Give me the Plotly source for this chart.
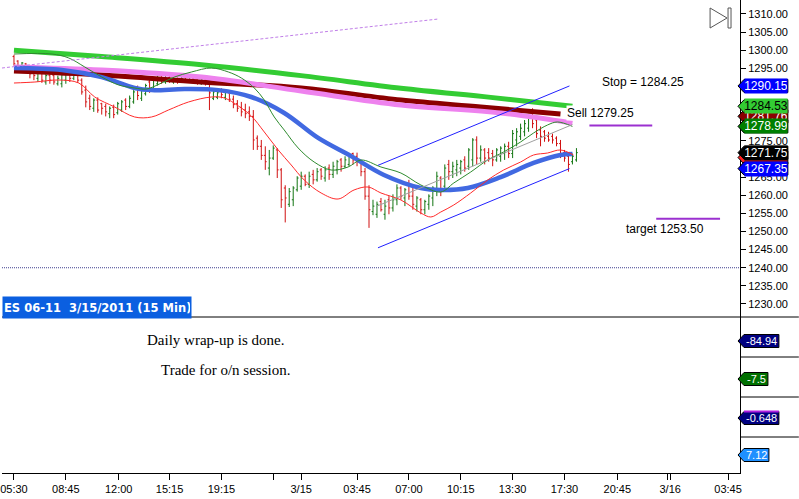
import plotly.graph_objects as go

# ES 06-11 15 min bars (price values)
bar_open = [
    1298.25, 1297.00, 1295.00, 1296.25, 1294.50, 1294.00, 1292.25, 1293.75, 1291.25, 1293.00,
    1293.00, 1290.75, 1290.75, 1291.75, 1294.00, 1292.25, 1294.50, 1291.75, 1289.00, 1286.75,
    1284.00, 1286.25, 1285.25, 1284.50, 1282.50, 1284.25, 1282.75, 1283.50, 1286.25, 1284.50,
    1285.75, 1289.50, 1286.75, 1288.00, 1291.25, 1289.50, 1290.75, 1293.00, 1291.25, 1292.50,
    1291.25, 1292.25, 1291.25, 1292.50, 1291.25, 1292.25, 1292.00, 1290.75, 1291.75, 1290.75,
    1286.75, 1287.00, 1289.00, 1287.00, 1288.25, 1286.50, 1285.25, 1284.25, 1283.50, 1283.00,
    1281.75, 1275.75, 1273.50, 1271.00, 1267.50, 1270.25, 1272.50, 1267.00, 1262.00, 1257.50,
    1258.75, 1261.50, 1262.50, 1265.25, 1263.00, 1265.75, 1264.25, 1267.00, 1264.75, 1267.50,
    1265.75, 1267.00, 1269.75, 1268.00, 1268.50, 1271.50, 1270.75, 1269.25, 1266.50, 1259.75,
    1255.50, 1254.75, 1258.25, 1254.75, 1258.75, 1256.50, 1258.75, 1262.00, 1259.25, 1263.00,
    1259.75, 1257.00, 1258.75, 1256.00, 1257.50, 1259.25, 1261.50, 1264.75, 1262.50, 1268.50,
    1266.50, 1267.00, 1267.50, 1269.75, 1268.00, 1269.75, 1275.25, 1270.25, 1272.50, 1271.75,
    1271.50, 1269.75, 1270.75, 1271.50, 1273.50, 1271.50, 1275.25, 1276.25, 1277.50, 1278.50,
    1282.50, 1280.75, 1278.00, 1277.50, 1276.25, 1276.25, 1275.75, 1274.25, 1271.75, 1270.75,
    1269.25, 1269.75]
bar_high = [
    1298.75, 1297.25, 1296.75, 1296.50, 1295.75, 1295.00, 1294.50, 1294.00, 1293.50, 1294.00,
    1293.50, 1293.00, 1293.75, 1294.00, 1294.50, 1295.25, 1295.00, 1292.25, 1290.25, 1287.75,
    1286.75, 1287.00, 1285.50, 1285.25, 1284.50, 1285.00, 1285.75, 1286.25, 1286.75, 1287.50,
    1289.00, 1290.25, 1289.50, 1290.75, 1291.75, 1292.25, 1293.00, 1293.50, 1293.00, 1293.25,
    1293.00, 1292.50, 1293.00, 1293.25, 1293.00, 1293.00, 1292.50, 1292.50, 1292.25, 1291.75,
    1289.50, 1289.00, 1289.50, 1289.00, 1288.75, 1287.50, 1286.25, 1285.75, 1285.25, 1284.50,
    1283.50, 1276.50, 1275.25, 1273.50, 1272.50, 1273.75, 1273.00, 1267.50, 1262.75, 1262.00,
    1262.50, 1265.25, 1266.50, 1265.75, 1266.50, 1267.00, 1267.50, 1267.50, 1268.00, 1268.50,
    1269.25, 1269.75, 1270.25, 1270.75, 1271.50, 1271.75, 1271.75, 1269.75, 1267.50, 1262.75,
    1258.75, 1258.25, 1259.25, 1258.75, 1259.75, 1260.25, 1263.00, 1262.50, 1262.00, 1264.25,
    1262.00, 1259.75, 1259.25, 1258.75, 1260.25, 1262.50, 1266.50, 1265.25, 1268.50, 1269.75,
    1269.25, 1269.75, 1269.75, 1270.75, 1273.00, 1275.75, 1276.25, 1273.75, 1273.00, 1273.00,
    1272.50, 1273.00, 1273.50, 1274.25, 1274.75, 1278.00, 1278.50, 1279.75, 1280.75, 1281.75,
    1284.00, 1281.75, 1279.00, 1278.00, 1277.50, 1277.00, 1276.25, 1275.25, 1272.50, 1271.75,
    1271.50, 1273.00]
bar_low = [
    1295.75, 1295.00, 1294.50, 1294.00, 1292.25, 1291.75, 1291.25, 1291.00, 1290.50, 1290.75,
    1290.50, 1290.25, 1289.75, 1290.75, 1291.25, 1291.75, 1291.00, 1287.75, 1284.25, 1283.50,
    1283.00, 1282.75, 1282.25, 1281.75, 1281.25, 1281.25, 1282.25, 1283.00, 1283.50, 1284.00,
    1285.25, 1286.25, 1286.00, 1287.50, 1288.25, 1289.00, 1290.25, 1290.75, 1290.75, 1291.00,
    1290.75, 1290.75, 1291.00, 1291.25, 1291.00, 1290.75, 1290.50, 1290.50, 1290.25, 1283.50,
    1286.25, 1286.50, 1286.75, 1286.25, 1285.75, 1284.00, 1283.00, 1281.75, 1281.25, 1280.50,
    1272.50, 1272.50, 1269.75, 1267.00, 1265.50, 1269.75, 1264.75, 1256.50, 1252.50, 1256.75,
    1257.00, 1261.00, 1261.50, 1262.50, 1262.00, 1263.00, 1263.75, 1264.25, 1263.75, 1264.25,
    1264.75, 1265.75, 1266.50, 1267.50, 1268.00, 1268.50, 1268.00, 1265.25, 1258.75, 1251.00,
    1254.50, 1253.75, 1255.50, 1253.25, 1254.75, 1255.50, 1257.25, 1258.75, 1257.00, 1258.75,
    1256.00, 1255.50, 1254.75, 1254.75, 1256.00, 1257.00, 1259.75, 1259.75, 1262.00, 1264.25,
    1264.75, 1265.25, 1265.75, 1266.50, 1267.00, 1268.00, 1268.50, 1269.25, 1268.50, 1269.25,
    1268.00, 1269.25, 1269.25, 1269.75, 1270.25, 1270.25, 1273.50, 1275.25, 1276.25, 1277.50,
    1278.50, 1275.75, 1273.50, 1274.75, 1274.75, 1274.25, 1273.50, 1270.25, 1269.25, 1266.50,
    1268.50, 1269.25]
bar_close = [
    1296.25, 1295.75, 1296.50, 1294.50, 1293.50, 1293.00, 1294.00, 1291.75, 1293.00, 1291.75,
    1291.25, 1292.25, 1293.25, 1293.50, 1292.25, 1294.50, 1291.75, 1288.50, 1285.75, 1284.50,
    1286.25, 1283.50, 1284.00, 1283.00, 1284.00, 1282.25, 1285.25, 1285.75, 1284.50, 1286.75,
    1288.50, 1287.50, 1289.00, 1290.25, 1289.50, 1291.75, 1292.25, 1291.75, 1292.25, 1291.75,
    1292.25, 1291.50, 1292.25, 1291.75, 1292.00, 1291.50, 1291.25, 1292.00, 1290.75, 1288.25,
    1288.50, 1288.25, 1287.75, 1288.50, 1286.50, 1285.00, 1284.00, 1283.00, 1282.50, 1281.75,
    1275.25, 1273.50, 1271.00, 1269.25, 1270.25, 1273.00, 1267.00, 1258.75, 1259.25, 1261.00,
    1262.00, 1264.75, 1265.25, 1263.00, 1265.25, 1264.25, 1266.50, 1265.25, 1267.00, 1265.75,
    1268.00, 1269.25, 1268.00, 1269.75, 1270.75, 1269.75, 1269.25, 1266.50, 1259.75, 1256.00,
    1257.00, 1257.50, 1256.00, 1257.00, 1256.50, 1258.75, 1262.00, 1259.75, 1261.50, 1259.75,
    1257.50, 1259.25, 1256.00, 1258.25, 1259.75, 1262.00, 1265.25, 1261.50, 1267.50, 1266.50,
    1268.00, 1268.50, 1269.25, 1267.50, 1272.50, 1275.25, 1270.25, 1272.50, 1270.25, 1270.25,
    1269.75, 1272.50, 1273.00, 1273.50, 1271.50, 1277.00, 1277.50, 1278.50, 1279.75, 1281.25,
    1279.75, 1277.00, 1276.25, 1275.75, 1275.25, 1275.25, 1274.25, 1270.75, 1270.25, 1268.50,
    1270.75, 1271.75]
bar_x = list(range(len(bar_close)))

# moving averages, read at bar positions
ma_slow_x = [0, 22, 47, 72, 97, 119.5, 140]
ma_slow_y = [1300.0, 1298.25, 1296.0, 1293.0, 1289.5, 1287.0, 1284.53]

ma_red_x = [0, 22, 47, 72, 97, 117, 137]
ma_red_y = [1294.25, 1293.15, 1291.25, 1289.6, 1286.25, 1284.35, 1282.4]

ma_pink_x = [0, 22, 47, 72, 97, 122, 140]
ma_pink_y = [1295.4, 1294.55, 1292.6, 1288.75, 1284.9, 1282.7, 1279.9]

ma_blue_x = [0, 12, 22, 30.25, 34.5, 42.75, 51.25, 59.5, 67.75, 76.25, 84.5, 92.75,
             102, 107, 113.75, 122, 130.25, 137, 140]
ma_blue_y = [1295.1, 1294.55, 1292.6, 1289.6, 1289.0, 1289.3, 1289.0, 1287.1, 1282.7,
             1275.8, 1270.8, 1265.6, 1262.0, 1261.45, 1262.0, 1265.0, 1268.9, 1271.1, 1271.4]

ma_fast_x = [0, 9.5, 13.75, 17.75, 22, 26.25, 30.25, 33.25, 37, 40.25, 44.5, 49.5, 53.75,
             57, 60.25, 62.75, 65.25, 67.75, 71.25, 75.25, 79.5, 83.75, 87, 92, 97, 102,
             107, 110.25, 114.5, 118.75, 122.75, 127, 130.25, 133.75, 136.25, 140]
ma_fast_y = [1298.96, 1298.96, 1297.86, 1295.38, 1292.62, 1290.41, 1289.58, 1289.31,
             1290.96, 1292.62, 1294.0, 1295.1, 1294.0, 1292.34, 1289.58, 1286.27, 1281.59,
             1278.0, 1273.03, 1269.17, 1266.96, 1267.79, 1269.72, 1267.79, 1266.13, 1262.83,
             1260.9, 1263.38, 1266.41, 1269.72, 1271.93, 1274.69, 1277.17, 1279.38, 1280.21,
             1278.99]

band_low_x = [0, 5.25, 11.25, 16.25, 20.25, 25.25, 30.25, 34.5, 38.75, 43.75, 49.5, 52.75,
              56.25, 59.5, 62.75, 66.25, 69.5, 72.75, 77, 81.25, 85.25, 88.75, 92, 97, 102,
              104.5, 107, 110.25, 114.5, 118.75, 122.75, 127, 130.25, 133.75, 137, 140.25]
band_low_y = [1290.96, 1291.24, 1291.79, 1290.96, 1287.1, 1284.34, 1281.59, 1281.59,
              1283.52, 1285.72, 1287.1, 1286.83, 1284.62, 1281.86, 1277.45, 1272.48, 1268.34,
              1264.21, 1260.62, 1258.96, 1261.45, 1262.27, 1260.62, 1258.69, 1255.1, 1254.0,
              1255.38, 1257.31, 1260.62, 1264.21, 1266.96, 1269.17, 1271.1, 1271.65, 1272.48,
              1271.1]

# drawn lines
channel_x = [91.25, 139.25]
channel_top = [1268.25, 1290.15]
channel_bot = [1245.5, 1267.35]
regress_x = [91, 140]
regress_y = [1257.0, 1279.5]
trend_x = [-3, 106.25]
trend_y = [1295.1, 1308.6]
support_level = 1240.0
sell_price = 1279.25
target_price = 1253.50
stop_price = 1284.25

# price tags on the right axis (drawn in this order)
tag_values = [1290.15, 1281.76, 1284.53, 1278.99, 1270.40, 1271.75, 1267.35]
tag_colors = ['#0000ff', '#8b0000', '#33cc33', '#008000', '#ff2020', '#000000', '#0000ff']
tag_text_colors = ['white', 'white', 'black', 'white', 'white', 'white', 'white']
tag_show_text = [True, True, True, True, False, True, True]

sub_values = ['-84.94', '-7.5', '-0.648', '7.12']
sub_colors = ['#000080', '#007000', '#000080', '#1e90ff']

tick_pos = [0, 13, 26.25, 39, 52, 65, 72, 86, 99, 112, 125, 138, 151.25, 163.75, 164.5, 179]
tick_text = ['05:30', '08:45', '12:00', '15:15', '19:15', '', '3/15', '03:45', '07:00',
             '10:15', '13:30', '17:30', '20:45', '', '3/16', '03:45']

price_ticks = list(range(1230, 1311, 5))

PLOT_W = 740.0   # plot area width in px
PLOT_H = 473.0   # plot area height in px
MAIN_LO, MAIN_HI = 1226.41, 1313.86
split = 1 - 317 / PLOT_H


def px(x):
    return x / PLOT_W


def py(y):
    return 1 - y / PLOT_H


fig = go.Figure()

fig.add_trace(go.Ohlc(x=bar_x, open=bar_open, high=bar_high, low=bar_low, close=bar_close,
                      increasing_line_color='#117511', decreasing_line_color='#d01010',
                      line_width=1, tickwidth=0.35, hoverinfo='skip'))

fig.add_trace(go.Scatter(x=ma_slow_x, y=ma_slow_y, mode='lines', line_shape='spline',
                         line=dict(color='#33cc33', width=5)))
fig.add_trace(go.Scatter(x=ma_red_x, y=ma_red_y, mode='lines', line_shape='spline',
                         line=dict(color='#8b0000', width=5)))
fig.add_trace(go.Scatter(x=ma_pink_x, y=ma_pink_y, mode='lines', line_shape='spline',
                         line=dict(color='#ee82ee', width=5)))
fig.add_trace(go.Scatter(x=ma_blue_x, y=ma_blue_y, mode='lines', line_shape='spline',
                         line=dict(color='#4169e1', width=4.5)))
fig.add_trace(go.Scatter(x=ma_fast_x, y=ma_fast_y, mode='lines', line_shape='spline',
                         line=dict(color='#2e8b2e', width=1)))
fig.add_trace(go.Scatter(x=band_low_x, y=band_low_y, mode='lines', line_shape='spline',
                         line=dict(color='#ff2a2a', width=1)))

# channel + regression + trendlines
fig.add_trace(go.Scatter(x=channel_x, y=channel_top, mode='lines', line=dict(color='#2020ff', width=1)))
fig.add_trace(go.Scatter(x=channel_x, y=channel_bot, mode='lines', line=dict(color='#2020ff', width=1)))
fig.add_trace(go.Scatter(x=regress_x, y=regress_y, mode='lines', line=dict(color='#a0a0a0', width=1)))
fig.add_trace(go.Scatter(x=trend_x, y=trend_y, mode='lines',
                         line=dict(color='#c07ee8', width=1, dash='3px,2px')))
fig.add_trace(go.Scatter(x=[-3, 182], y=[support_level, support_level], mode='lines',
                         line=dict(color='#404090', width=1, dash='1px,1px')))
fig.add_trace(go.Scatter(x=[144.25, 160], y=[sell_price, sell_price], mode='lines',
                         line=dict(color='#9b30d0', width=2)))
fig.add_trace(go.Scatter(x=[161, 177], y=[target_price, target_price], mode='lines',
                         line=dict(color='#9b30d0', width=2)))

# empty indicator pane (needs a trace so the subplot exists)
fig.add_trace(go.Scatter(x=[0], y=[-10], yaxis='y2', mode='markers',
                         marker=dict(opacity=0), hoverinfo='skip'))

shapes = []
annotations = []

# tags on the price axis
half = 6.5 * (MAIN_HI - MAIN_LO) / 317
for val, col, tcol, show in zip(tag_values, tag_colors, tag_text_colors, tag_show_text):
    path = 'M {a},{v} L {b},{t} L {c},{t} L {c},{u} L {b},{u} Z'.format(
        a=px(738), b=px(744), c=px(788), v=val, t=val + half, u=val - half)
    shapes.append(dict(type='path', path=path, xref='paper', yref='y', layer='above',
                       fillcolor=col, line=dict(color='black', width=1)))
    if show:
        annotations.append(dict(x=px(766), y=val, xref='paper', yref='y', text='%.2f' % val,
                                showarrow=False, xanchor='center', yanchor='middle',
                                width=42, height=14, borderpad=0, bgcolor=col,
                                font=dict(family='Arial', size=12, color=tcol)))

# tags in the lower pane
sub_y = [341, 379, 418, 455]
sub_right = [779, 768, 779, 769]
for val, col, yy, xr in zip(sub_values, sub_colors, sub_y, sub_right):
    path = 'M {a},{v} L {b},{t} L {c},{t} L {c},{u} L {b},{u} Z'.format(
        a=px(738), b=px(744), c=px(xr), v=py(yy), t=py(yy - 6.5), u=py(yy + 6.5))
    shapes.append(dict(type='path', path=path, xref='paper', yref='paper', layer='above',
                       fillcolor=col, line=dict(color='black', width=1)))
    annotations.append(dict(x=px((745 + xr) / 2), y=py(yy), xref='paper', yref='paper',
                            text=val, showarrow=False, xanchor='center', yanchor='middle',
                            font=dict(family='Arial', size=11, color='white')))
shapes.append(dict(type='line', xref='paper', yref='paper', x0=px(744), x1=px(779),
                   y0=py(411.5), y1=py(411.5), line=dict(color='#b020e0', width=2), layer='above'))

# pane separators
shapes.append(dict(type='line', xref='paper', yref='paper', x0=0, x1=px(799),
                   y0=split, y1=split, line=dict(color='black', width=1)))
for yy in [357, 397, 437]:
    shapes.append(dict(type='line', xref='paper', yref='paper', x0=1, x1=px(799),
                       y0=py(yy), y1=py(yy), line=dict(color='black', width=1)))

# the little "go to end" icon
shapes.append(dict(type='path', xref='paper', yref='paper',
                   path='M {a},{t} L {a},{b} L {c},{m} Z'.format(a=px(710), c=px(727),
                                                              t=py(8), b=py(28), m=py(18)),
                   line=dict(color='#555555', width=1)))
shapes.append(dict(type='rect', xref='paper', yref='paper', x0=px(728), x1=px(731),
                   y0=py(28), y1=py(8), line=dict(color='#555555', width=1)))

# text notes
annotations.append(dict(x=147, y=1291.2, xref='x', yref='y', text='Stop = %.2f' % stop_price,
                        showarrow=False, xanchor='left',
                        font=dict(family='Arial', size=12, color='black')))
annotations.append(dict(x=138.5, y=1282.7, xref='x', yref='y', text='Sell %.2f' % sell_price,
                        showarrow=False, xanchor='left', bgcolor='white', borderpad=0,
                        font=dict(family='Arial', size=12, color='black')))
annotations.append(dict(x=153, y=1250.7, xref='x', yref='y', text='target %.2f' % target_price,
                        showarrow=False, xanchor='left',
                        font=dict(family='Arial', size=12, color='black')))
annotations.append(dict(x=0, y=py(307.5), xref='paper', yref='paper',
                        text='<b>ES 06-11&nbsp;&nbsp;3/15/2011 (15 Min)</b>', showarrow=False,
                        xanchor='left', align='left', width=186, height=19, borderpad=1,
                        bgcolor='#0b5fe0',
                        font=dict(family='DejaVu Sans', size=11.5, color='white')))
annotations.append(dict(x=px(214), y=py(350), xref='paper', yref='paper',
                        text='Daily wrap-up is done.', showarrow=False, xanchor='center',
                        font=dict(family='Liberation Serif', size=15, color='black')))
annotations.append(dict(x=px(224), y=py(380), xref='paper', yref='paper',
                        text='Trade for o/n session.', showarrow=False, xanchor='center',
                        font=dict(family='Liberation Serif', size=15, color='black')))

fig.update_layout(
    width=799, height=499,
    margin=dict(l=0, r=59, t=0, b=26),
    paper_bgcolor='white', plot_bgcolor='white',
    showlegend=False,
    shapes=shapes, annotations=annotations,
    xaxis=dict(range=[-3, 182], anchor='y2', tickvals=tick_pos, ticktext=tick_text,
               ticks='outside', ticklen=6, tickcolor='black', showline=True,
               linecolor='black', showgrid=False, zeroline=False,
               ticklabeloverflow='allow',
               tickfont=dict(family='Arial', size=11, color='black'),
               rangeslider=dict(visible=False)),
    yaxis=dict(domain=[split, 1], range=[MAIN_LO, MAIN_HI], side='right', anchor='x',
               tickvals=price_ticks, ticktext=['%.2f' % v for v in price_ticks],
               ticks='outside', ticklen=5, tickcolor='black', showline=True,
               linecolor='black', showgrid=False, zeroline=False,
               ticklabeloverflow='allow',
               tickfont=dict(family='Arial', size=11, color='black')),
    yaxis2=dict(domain=[0, split], range=[0, 1], side='right', anchor='x', showline=True,
                linecolor='black', showticklabels=False, ticks='', showgrid=False,
                zeroline=False),
)

# page body has an 8px default margin; drop it so the chart sits at the corner
fig.write_html("out.html", config={'displayModeBar': False},
               post_script="document.body.style.margin='0px';")
